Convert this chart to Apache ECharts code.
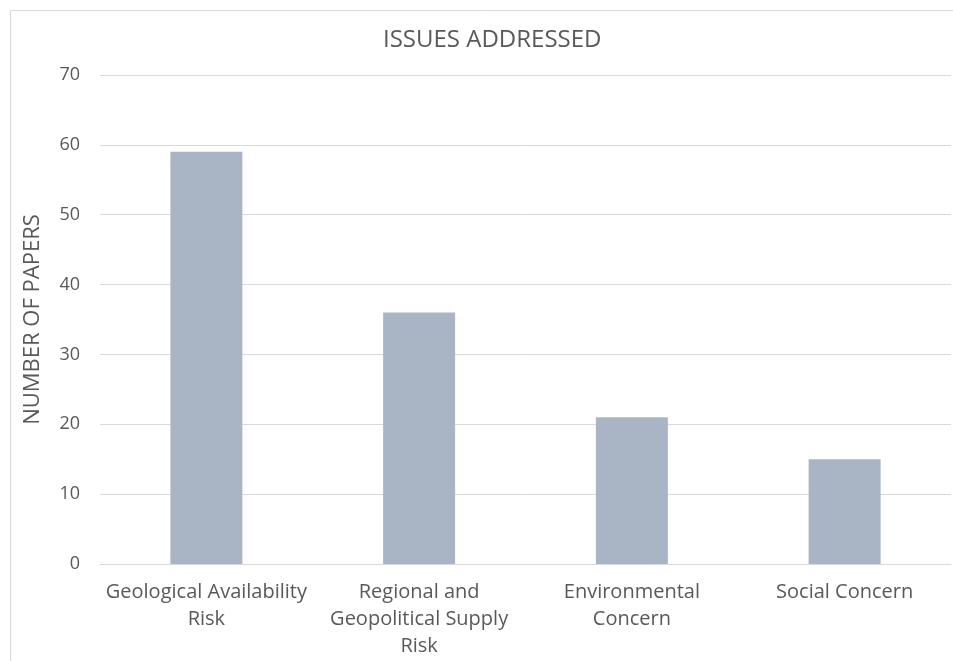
<!DOCTYPE html>
<html>
<head>
<meta charset="utf-8">
<script src="https://cdn.jsdelivr.net/npm/echarts@6/dist/echarts.min.js"></script>
<style>
  html, body { margin: 0; padding: 0; background: #fff; }
  #chart { width: 953px; height: 661px; }
</style>
</head>
<body>
<div id="chart"></div>
<script>
// 各类问题对应的论文数量
const categories = [
  'Geological Availability\nRisk',
  'Regional and\nGeopolitical Supply\nRisk',
  'Environmental\nConcern',
  'Social Concern'
];
const paperCounts = [59, 36, 21, 15];
const yTicks = { min: 0, max: 70, interval: 10 };

const chart = echarts.init(document.getElementById('chart'));
const textColor = '#595959';
const font = '"Open Sans", Lato, sans-serif';

chart.setOption({
  animation: false,
  backgroundColor: '#fff',
  // 外边框
  graphic: [{
    type: 'rect',
    shape: { x: 10.5, y: 10.5, width: 960, height: 670 },
    style: { fill: 'none', stroke: '#d9d9d9', lineWidth: 1 }
  }],
  title: {
    text: 'ISSUES ADDRESSED',
    left: 378,
    top: 23,
    textStyle: { color: textColor, fontSize: 24, fontWeight: 'normal', fontFamily: font }
  },
  grid: { left: 100, right: 2, top: 75, bottom: 97 },
  xAxis: {
    type: 'category',
    data: categories,
    axisLine: { show: true, lineStyle: { color: '#d9d9d9', width: 1 } },
    axisTick: { show: false },
    axisLabel: {
      color: textColor,
      fontSize: 20,
      fontFamily: font,
      lineHeight: 27,
      margin: 15,
      interval: 0
    }
  },
  yAxis: {
    type: 'value',
    min: yTicks.min,
    max: yTicks.max,
    interval: yTicks.interval,
    name: 'NUMBER OF PAPERS',
    nameLocation: 'middle',
    nameGap: 56,
    nameTextStyle: { color: textColor, fontSize: 22, fontFamily: font },
    axisLine: { show: false },
    axisTick: { show: false },
    axisLabel: { color: textColor, fontSize: 18, fontFamily: font, margin: 20 },
    splitLine: { lineStyle: { color: '#d9d9d9', width: 1 } }
  },
  series: [{
    type: 'bar',
    data: paperCounts,
    barWidth: 72,
    itemStyle: { color: '#a9b5c5' }
  }]
});
</script>
</body>
</html>
